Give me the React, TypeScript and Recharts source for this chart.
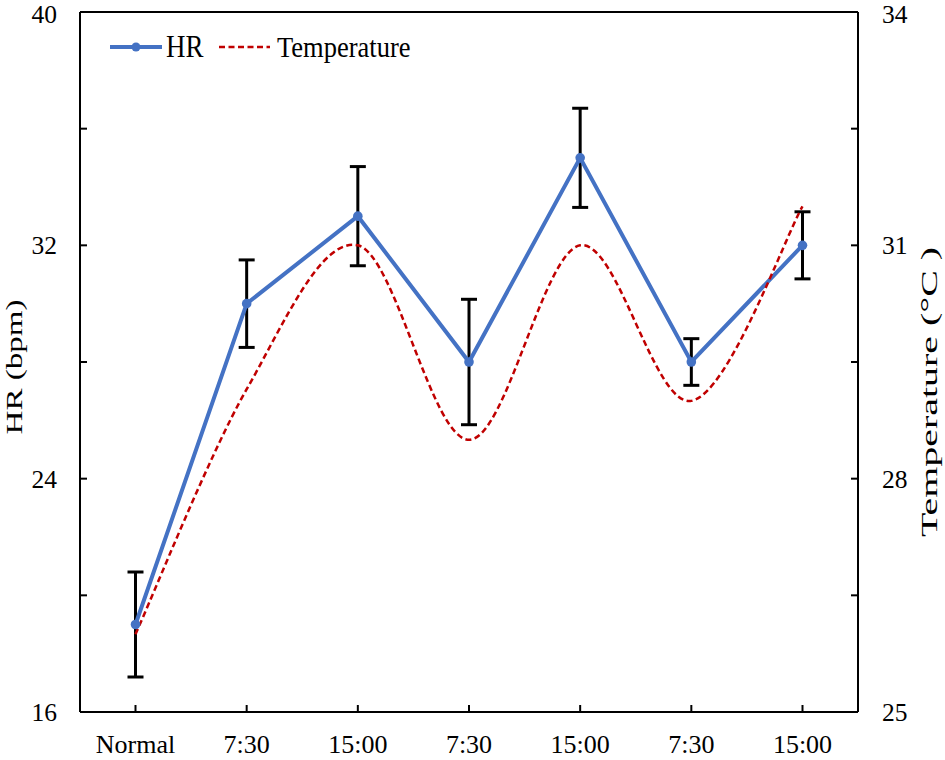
import React from 'react';
import { ComposedChart, Line, XAxis, YAxis, ErrorBar, ReferenceLine, Legend } from 'recharts';

const categories = ['Normal', '7:30', '15:00', '7:30', '15:00', '7:30', '15:00'];
const hrValues = [19, 30, 33, 28, 35, 28, 32];
const hrErrors = [1.8, 1.5, 1.7, 2.15, 1.7, 0.8, 1.15];
const tempValues = [26.0, 29.15, 31.0, 28.5, 31.0, 29.0, 31.5];

const hrTicks = [16, 20, 24, 28, 32, 36, 40];
const hrLabelled = [16, 24, 32, 40];
const tempTicks = [25, 26.5, 28, 29.5, 31, 32.5, 34];
const tempLabelled = [25, 28, 31, 34];

const data = categories.map((label, i) => ({
  label,
  hr: hrValues[i],
  hrErr: hrErrors[i],
  temp: tempValues[i],
}));

const FONT = '"Liberation Serif", "Times New Roman", serif';
const BLUE = '#4472C4';
const RED = '#C00000';

// Excel-like smoothed line (Catmull-Rom through every point)
const excelSmooth = (context: any) => {
  let pts: [number, number][] = [];
  return {
    areaStart() {},
    areaEnd() {},
    lineStart() {
      pts = [];
    },
    lineEnd() {
      const n = pts.length;
      if (!n) return;
      context.moveTo(pts[0][0], pts[0][1]);
      for (let i = 0; i < n - 1; i++) {
        const p0 = pts[Math.max(0, i - 1)];
        const p1 = pts[i];
        const p2 = pts[i + 1];
        const p3 = pts[Math.min(n - 1, i + 2)];
        context.bezierCurveTo(
          p1[0] + (p2[0] - p0[0]) / 6,
          p1[1] + (p2[1] - p0[1]) / 6,
          p2[0] - (p3[0] - p1[0]) / 6,
          p2[1] - (p3[1] - p1[1]) / 6,
          p2[0],
          p2[1]
        );
      }
    },
    point(x: number, y: number) {
      pts.push([+x, +y]);
    },
  };
};

// top labels nudged a touch so they stay inside the picture
const nudge = (y: number) => (y < 20 ? y + 2 : y);

const LeftTick = ({ x, y, payload }: any) => (
  <g>
    <line x1={x} x2={x + 7} y1={y} y2={y} stroke="#000" strokeWidth={2} />
    {hrLabelled.includes(payload.value) && (
      <text x={x - 23} y={nudge(y)} dy="0.35em" textAnchor="end" fontFamily={FONT} fontSize={25.5} fill="#000">
        {payload.value}
      </text>
    )}
  </g>
);

const RightTick = ({ x, y, payload }: any) => (
  <g>
    <line x1={x - 7} x2={x} y1={y} y2={y} stroke="#000" strokeWidth={2} />
    {tempLabelled.includes(payload.value) && (
      <text x={x + 24} y={nudge(y)} dy="0.35em" textAnchor="start" fontFamily={FONT} fontSize={25.5} fill="#000">
        {payload.value}
      </text>
    )}
  </g>
);

const BottomTick = ({ x, y, payload }: any) => (
  <g>
    <line x1={x} x2={x} y1={y} y2={y - 7} stroke="#000" strokeWidth={2} />
    <text x={x} y={y + 41} textAnchor="middle" fontFamily={FONT} fontSize={26} fill="#000">
      {payload.value}
    </text>
  </g>
);

const AxisTitle = ({ viewBox, text, dx, dy, length, size }: any) => {
  const cx = viewBox.x + dx;
  const cy = viewBox.y + viewBox.height / 2 + dy;
  return (
    <text
      x={0}
      y={0}
      transform={`translate(${cx},${cy}) rotate(-90)`}
      textAnchor="middle"
      dominantBaseline="central"
      fontFamily={FONT}
      fontSize={size}
      fill="#000"
      textLength={length}
      lengthAdjust="spacingAndGlyphs"
    >
      {text}
    </text>
  );
};

const LegendBox = () => (
  <svg width={460} height={80} style={{ display: 'block' }}>
    <line x1={110} x2={162} y1={47} y2={47} stroke={BLUE} strokeWidth={4} />
    <circle cx={136} cy={47} r={4.5} fill={BLUE} />
    <text transform="translate(166,57) scale(1,1.15)" fontFamily={FONT} fontSize={27} fill="#000">
      HR
    </text>
    <line x1={219} x2={270} y1={47} y2={47} stroke={RED} strokeWidth={2.5} strokeDasharray="6 3.5" />
    <text transform="translate(277,57) scale(1,1.15)" fontFamily={FONT} fontSize={26.5} fill="#000">
      Temperature
    </text>
  </svg>
);

export default function App() {
  return (
    <div style={{ position: 'absolute', left: 0, top: 0, background: '#fff' }}>
      <ComposedChart width={945} height={760} data={data} margin={{ top: 12, right: 0, left: 0, bottom: 0 }}>
        <XAxis
          dataKey="label"
          padding={{ left: 55.5, right: 55.5 }}
          height={48}
          axisLine={{ stroke: '#000', strokeWidth: 2 }}
          tickLine={false}
          tickSize={0}
          tickMargin={0}
          tick={<BottomTick />}
          interval={0}
        />
        <YAxis
          yAxisId="left"
          orientation="left"
          width={80}
          domain={[16, 40]}
          ticks={hrTicks}
          interval={0}
          axisLine={{ stroke: '#000', strokeWidth: 2 }}
          tickLine={false}
          tickSize={0}
          tickMargin={0}
          tick={<LeftTick />}
          label={<AxisTitle text="HR (bpm)" dx={14} dy={5} length={135} size={24} />}
        />
        <YAxis
          yAxisId="right"
          orientation="right"
          width={87}
          domain={[25, 34]}
          ticks={tempTicks}
          interval={0}
          axisLine={{ stroke: '#000', strokeWidth: 2 }}
          tickLine={false}
          tickSize={0}
          tickMargin={0}
          tick={<RightTick />}
          label={<AxisTitle text="Temperature (°C )" dx={71} dy={30} length={290} size={23} />}
        />
        <ReferenceLine yAxisId="left" y={40} stroke="#000" strokeWidth={2} />
        <Legend
          layout="vertical"
          align="center"
          verticalAlign="middle"
          content={<LegendBox />}
          wrapperStyle={{ left: 0, top: 0, width: 460, height: 80 }}
        />
        <Line
          yAxisId="left"
          dataKey="hr"
          name="HR"
          type="linear"
          stroke={BLUE}
          strokeWidth={4}
          dot={{ r: 4.8, fill: BLUE, stroke: BLUE, strokeWidth: 0 }}
          activeDot={false}
          isAnimationActive={false}
        >
          <ErrorBar dataKey="hrErr" direction="y" width={8} strokeWidth={3} stroke="#000" />
        </Line>
        <Line
          yAxisId="right"
          dataKey="temp"
          name="Temperature"
          type={excelSmooth as any}
          stroke={RED}
          strokeWidth={2.5}
          strokeDasharray="6 3.5"
          dot={false}
          activeDot={false}
          isAnimationActive={false}
        />
      </ComposedChart>
    </div>
  );
}
